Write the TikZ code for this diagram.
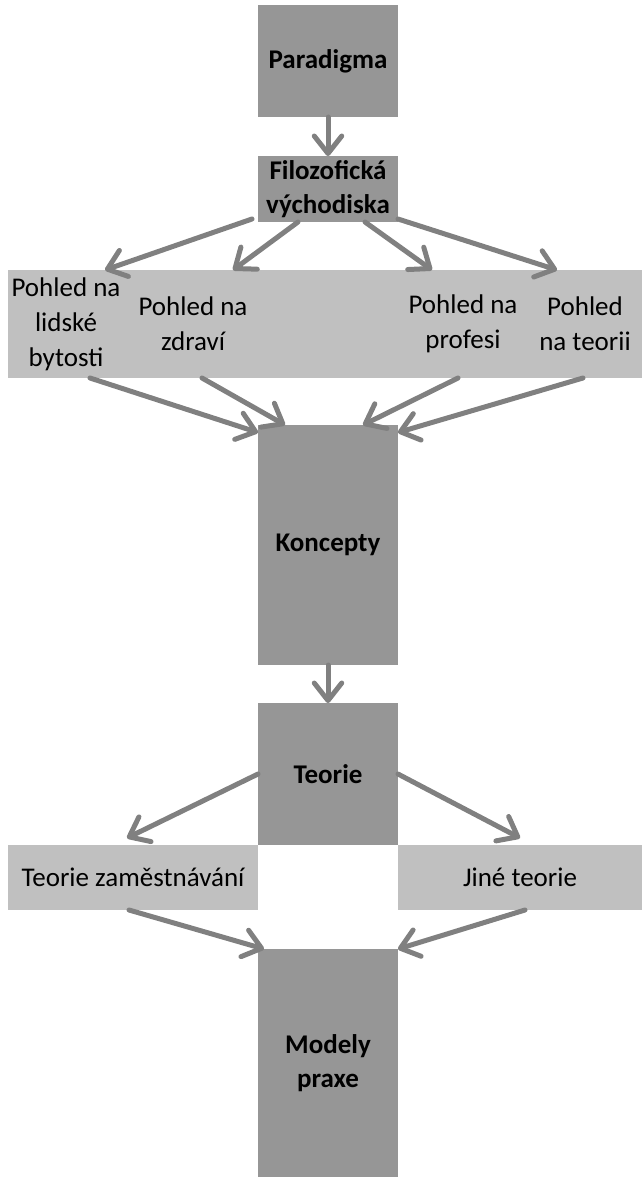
\documentclass[tikz,border=0pt]{standalone}
\usepackage{fontspec}
\setmainfont{Carlito}
\usetikzlibrary{arrows.meta}
\usetikzlibrary{positioning,calc}
\definecolor{boxgray}{RGB}{150,150,150}
\definecolor{bandgray}{RGB}{192,192,192}
\definecolor{linkgray}{RGB}{128,128,128}
\tikzset{
	every node/.style={font=\fontsize{10.8}{14}\selectfont,inner sep=0pt,outer sep=0pt,align=center}
}
\tikzset{
	main box/.style={rectangle,fill=boxgray,minimum width=56pt,font=\fontsize{10.8}{13.4}\selectfont\bfseries},
	band box/.style={rectangle,fill=bandgray},
	link/.style={draw=linkgray,line width=2pt,line cap=round,-{Straight Barb[length=7pt,width=11pt,line cap=round,line join=round]}}
}
\begin{document}
\begin{tikzpicture}
	\useasboundingbox (0,0) rectangle (256.8pt,-470.8pt);
	% main column
	\node[main box,minimum height=44.8pt,anchor=north] (para) at (131.2pt,-2pt) {Paradigma};
	\node[main box,minimum height=26.4pt] (filoz) [below = 15.6pt of para] {Filozofická\\východiska};
	\node[band box,minimum width=256pt,minimum height=43.2pt] (band) [below = 19.2pt of filoz] {};
	\node[main box,minimum height=96pt] (koncepty) [below = 18.8pt of band] {Koncepty};
	\node[main box,minimum height=56.8pt] (teorie) [below = 15.2pt of koncepty] {Teorie};
	\node[band box,minimum width=100pt,minimum height=26pt,anchor=north east] (zam) at (teorie.south west) {Teorie zaměstnávání};
	\node[band box,minimum width=97.6pt,minimum height=26pt,anchor=north west] (jine) at (teorie.south east) {Jiné teorie};
	\node[main box,minimum height=91.2pt] (modely) [below = 41.6pt of teorie] {Modely\\praxe};
	% views inside the band
	\node (lidske) at ([xshift=23.2pt]band.west) {Pohled na\\lidské\\bytosti};
	\node (zdravi) at ([xshift=74pt]band.west) {Pohled na\\zdraví};
	\node (profese) at ([xshift=182pt]band.west) {Pohled na\\profesi};
	\node (teorii) at ([xshift=230.8pt]band.west) {Pohled\\na teorii};
	% arrows
	\draw[link] (para) -- (filoz);
	\draw[link] ([xshift=-2.4pt,yshift=1.2pt]filoz.south west) -- ([xshift=38.8pt]band.north west);
	\draw[link] ([xshift=-12pt]filoz.south) -- ([xshift=90pt]band.north west);
	\draw[link] ([xshift=14.8pt]filoz.south) -- ([xshift=169.6pt]band.north west);
	\draw[link] ([yshift=1.2pt]filoz.south east) -- ([xshift=219.6pt]band.north west);
	\draw[link] ([xshift=32.8pt]band.south west) -- ([yshift=-3pt]koncepty.north west);
	\draw[link] ([xshift=77.6pt]band.south west) -- ([xshift=10.8pt]koncepty.north west);
	\draw[link] ([xshift=180pt]band.south west) -- ([xshift=-14pt]koncepty.north east);
	\draw[link] ([xshift=230pt]band.south west) -- ([yshift=-3pt]koncepty.north east);
	\draw[link] (koncepty) -- (teorie);
	\draw[link] (teorie.west) -- ([xshift=-2.4pt,yshift=2.8pt]zam.north);
	\draw[link] (teorie.east) -- ([yshift=2.8pt]jine.north);
	\draw[link] ([xshift=-1.6pt]zam.south) -- ([xshift=2.4pt]modely.north west);
	\draw[link] ([xshift=2pt]jine.south) -- (modely.north east);
\end{tikzpicture}
\end{document}
